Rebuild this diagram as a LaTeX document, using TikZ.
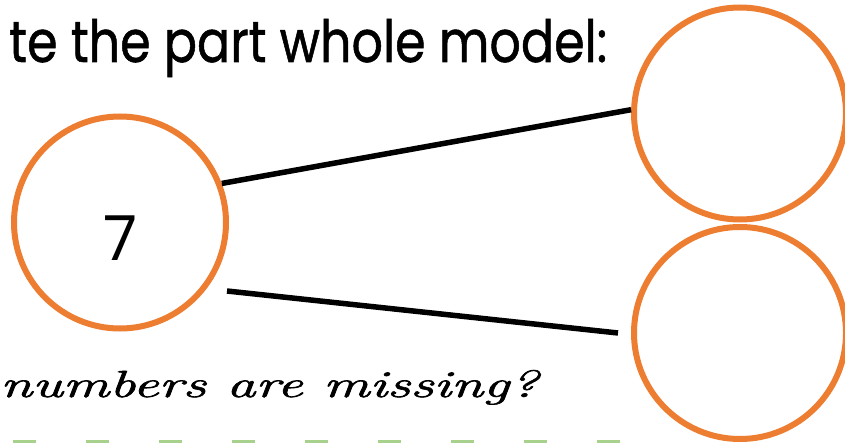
\documentclass[tikz,border=0pt]{standalone}
\usepackage{fontspec}
\setmainfont{Poppins}
\newfontfamily\titlefont[FakeBold=1.0]{Poppins}
\newfontfamily\cursivefont[FakeBold=1.5]{Latin Modern Roman}
\definecolor{pwOrange}{RGB}{237,125,49}
\definecolor{pwGreen}{RGB}{169,209,142}
\begin{document}
\begin{tikzpicture}[x=1pt,y=1pt,
  partcircle/.style={circle,draw=pwOrange,line width=6pt,minimum size=212pt,inner sep=0pt},
  link/.style={draw=black,line width=5.5pt},
  label/.style={inner sep=0pt}]
\fill[white] (0,0) rectangle (845,442);
\useasboundingbox (0,0) rectangle (845,442);
% circles
\node[partcircle] (whole) at (120,219.5) {};
\node[partcircle] (ptop) at (740,328.5) {};
\node[partcircle] (pbot) at (740,109) {};
\node[label,font=\fontsize{62}{62}\selectfont] (seven) at ([yshift=-15.5pt]whole.center) {7};
% connectors
\coordinate (b1) at (227,151);
\coordinate (b2) at (618,109);
\draw[link] (whole.21) -- (ptop.178);
\draw[link] (b1) -- (b2);
% texts
\node[label,anchor=base west] (title) at (9,380) {\resizebox{598pt}{43pt}{\titlefont\fontsize{60}{60}\selectfont te the part whole model:}};
\node[label,anchor=base west] (question) at (0,45) {\resizebox{538pt}{27pt}{\cursivefont\itshape\fontsize{40}{40}\selectfont numbers are missing?}};
% green dashes
\coordinate (g1) at (13,1);
\coordinate (g2) at (622,1);
\draw[pwGreen,line width=3pt,dash pattern=on 23pt off 50pt] (g1) -- (g2);
\end{tikzpicture}
\end{document}
